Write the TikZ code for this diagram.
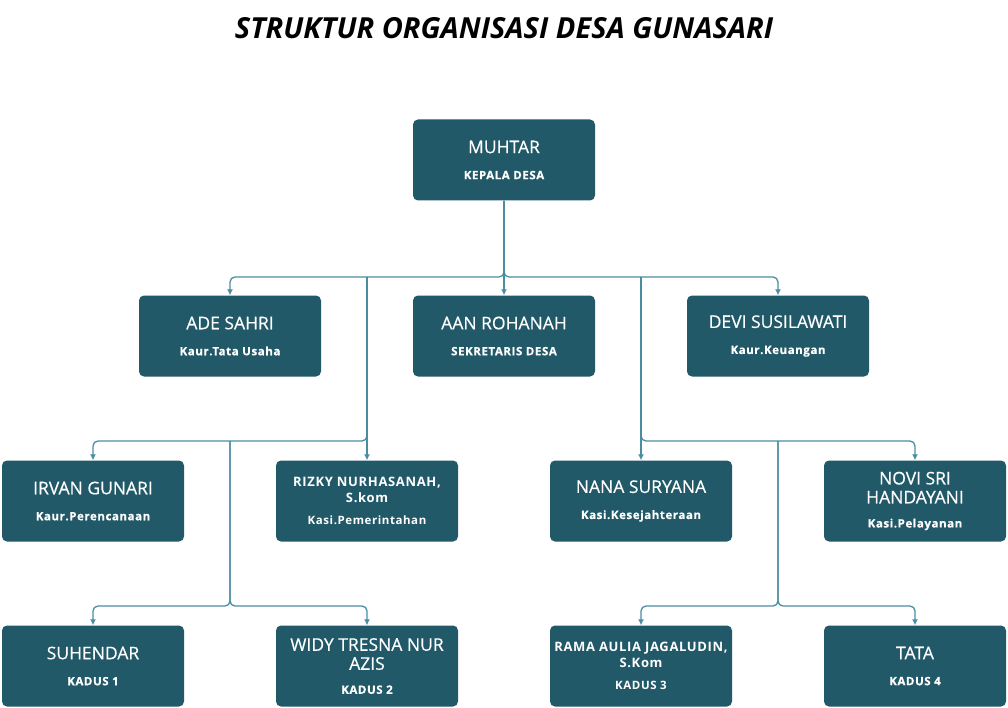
\documentclass[tikz,border=0pt]{standalone}
\usepackage{fontspec}
\setmainfont{Open Sans}
\newfontfamily\namefam[FakeBold=0.4]{Open Sans}
\usetikzlibrary{arrows.meta}
\definecolor{boxfill}{RGB}{33,89,104}
\definecolor{linecol}{RGB}{74,141,161}
\newcommand{\namefont}{\namefam\fontsize{17.5}{19}\selectfont}
\newcommand{\rolefont}{\fontsize{11.5}{14}\selectfont\bfseries\addfontfeatures{LetterSpace=5}}
\newcommand{\smallname}{\fontsize{13}{16}\selectfont\bfseries\addfontfeatures{LetterSpace=5}}
\tikzset{
    box/.style={fill=boxfill, rounded corners=5pt, minimum width=182pt, minimum height=81pt,
        inner sep=0pt, align=center, text=white, font=\namefont},
    conn/.style={draw=linecol, line width=1.3pt, rounded corners=5pt, -{Latex[length=6pt,width=6pt]}}
}
\begin{document}
\begin{tikzpicture}[x=1pt,y=-1pt]
    \useasboundingbox (0,0) rectangle (1008,708);
    \node (title) at (504,28) {\fontsize{29}{32}\selectfont\bfseries\itshape STRUKTUR ORGANISASI DESA GUNASARI};
    % kepala desa
    \node[box] (muhtar) at (504,160) {MUHTAR\\[7pt]{\rolefont KEPALA DESA}};
    % level 2
    \node[box] (ade) at (230,336) {ADE SAHRI\\[7pt]{\rolefont Kaur.Tata Usaha}};
    \node[box] (aan) at (504,336) {AAN ROHANAH\\[7pt]{\rolefont SEKRETARIS DESA}};
    \node[box] (devi) at (778,336) {DEVI SUSILAWATI\\[7pt]{\rolefont Kaur.Keuangan}};
    % level 3
    \node[box] (irvan) at (93,501) {IRVAN GUNARI\\[7pt]{\rolefont Kaur.Perencanaan}};
    \node[box, font=\smallname] (rizky) at (367,501) {RIZKY NURHASANAH,\\S.kom\\[6pt]{\rolefont Kasi.Pemerintahan}};
    \node[box] (nana) at (641,501) {NANA SURYANA\\[7pt]{\rolefont Kasi.Kesejahteraan}};
    \node[box] (novi) at (915,501) {NOVI SRI\\HANDAYANI\\[5pt]{\rolefont Kasi.Pelayanan}};
    % kadus
    \node[box] (suhendar) at (93,666) {SUHENDAR\\[7pt]{\rolefont KADUS 1}};
    \node[box] (widy) at (367,666) {WIDY TRESNA NUR\\AZIS\\[5pt]{\rolefont KADUS 2}};
    \node[box, font=\smallname] (rama) at (641,666) {RAMA AULIA JAGALUDIN,\\S.Kom\\[6pt]{\rolefont KADUS 3}};
    \node[box] (tata) at (915,666) {TATA\\[7pt]{\rolefont KADUS 4}};
    % junctions
    \coordinate (busA) at (504,277);
    \coordinate (busL) at (367,441);
    \coordinate (busR) at (641,441);
    \coordinate (kadL) at (230,441);
    \coordinate (kadLj) at (230,606);
    \coordinate (kadR) at (778,441);
    \coordinate (kadRj) at (778,606);
    % connectors
    \draw[conn] (muhtar.south) -- (busA) -| (ade.north);
    \draw[conn] (muhtar.south) -- (busA) -| (devi.north);
    \draw[conn] (muhtar) -- (aan);
    \draw[conn] (rizky.north |- busA) -- (rizky.north);
    \draw[conn] (rizky.north |- busA) -- (busL) -| (irvan.north);
    \draw[conn] (nana.north |- busA) -- (nana.north);
    \draw[conn] (nana.north |- busA) -- (busR) -| (novi.north);
    \draw[conn] (kadL) -- (kadLj) -| (suhendar.north);
    \draw[conn] (kadL) -- (kadLj) -| (widy.north);
    \draw[conn] (kadR) -- (kadRj) -| (rama.north);
    \draw[conn] (kadR) -- (kadRj) -| (tata.north);
\end{tikzpicture}
\end{document}
